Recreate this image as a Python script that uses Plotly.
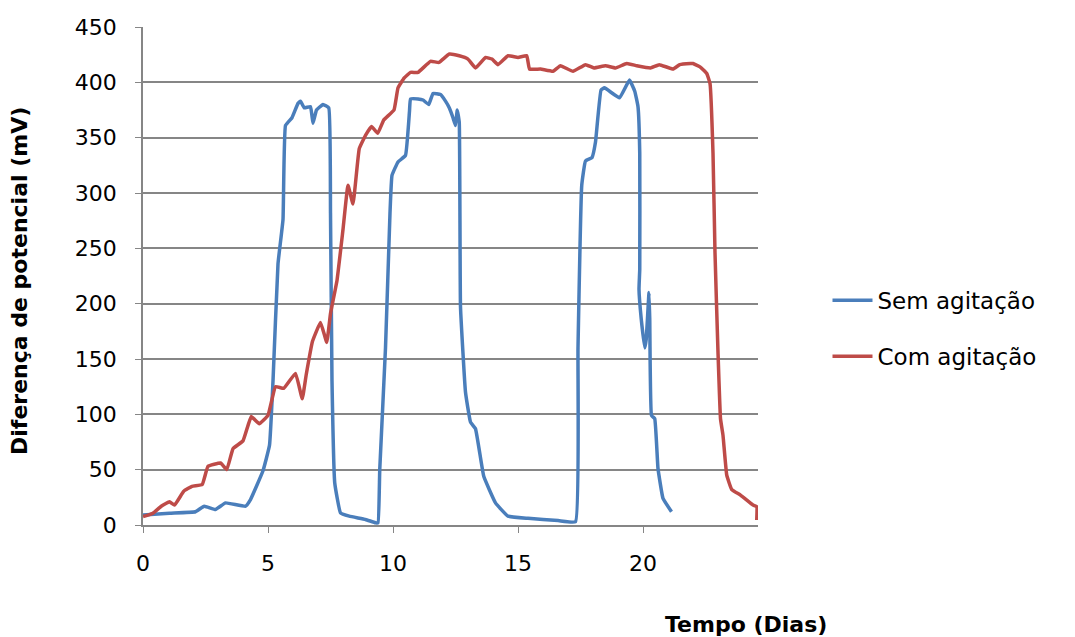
import plotly.graph_objects as go

# Sem agitação (blue)
sem_x = [0, 1.06, 2.1, 2.45, 2.9, 3.3, 4.1, 4.3, 4.8, 5.06, 5.2, 5.4, 5.6, 5.7, 5.96,
         6.2, 6.3, 6.45, 6.7, 6.8, 6.94, 7.2, 7.43, 7.5, 7.56, 7.67, 7.9, 8.25, 8.9, 9.3, 9.4,
         9.47, 9.7, 9.88, 9.96, 10.2, 10.5, 10.66, 10.7, 11.0, 11.2, 11.43, 11.6, 11.9, 12.1,
         12.25, 12.4, 12.5, 12.57, 12.65, 12.7, 12.9, 13.1, 13.3, 13.63, 14.1, 14.6, 15.4,
         16.6, 17.3, 17.4, 17.55, 17.7, 17.96, 18.1, 18.32, 18.46, 19.06, 19.46, 19.67, 19.8,
         19.87, 19.87, 19.84, 19.93, 20.07, 20.13, 20.24, 20.27, 20.34, 20.47, 20.6, 20.8, 21.14]
sem_y = [9, 10.7, 12, 17, 14, 20, 17, 23, 49, 72, 130, 236, 276, 361, 368,
         381, 383, 377, 378, 363, 375, 380, 377, 282, 130, 38, 11, 8, 5, 2, 2,
         50, 160, 282, 316, 328, 334, 374, 385, 385, 384, 380, 390, 389, 383,
         377, 368, 361, 375, 364, 197, 120, 93, 87, 44, 20, 8, 6,
         4, 3, 160, 307, 329, 332, 346, 393, 395, 386, 402, 392, 378,
         336, 231, 213, 186, 160, 168, 210, 186, 99, 96, 51, 24, 12]

# Com agitação (red)
com_x = [0, 0.4, 0.73, 1.06, 1.26, 1.63, 1.96, 2.37, 2.6, 3.1, 3.35, 3.6, 4.0, 4.33, 4.65,
         5.0, 5.3, 5.63, 6.1, 6.37, 6.53, 6.78, 7.1, 7.35, 7.5, 7.76, 8.0, 8.2, 8.4, 8.65,
         8.9, 9.14, 9.39, 9.63, 10.04, 10.2, 10.45, 10.7, 11.0, 11.5, 11.84, 12.25, 12.65,
         13.0, 13.3, 13.7, 13.96, 14.2, 14.6, 15.0, 15.35, 15.46, 15.9, 16.4, 16.7, 17.2,
         17.7, 18.04, 18.5, 18.9, 19.35, 19.75, 20.3, 20.65, 21.2, 21.47, 21.9, 22.0, 22.28,
         22.55, 22.68, 22.8, 22.88, 23.0, 23.1, 23.2, 23.35, 23.55, 23.9, 24.4, 24.55, 24.55]
com_y = [7.6, 10.7, 17, 21, 18, 30.5, 35, 36.6, 53, 56, 50, 69, 76, 98, 91.5,
         99, 125, 123.5, 137, 114, 136, 166, 183, 165, 191, 221, 267, 307, 290, 340,
         352, 360, 354, 366, 375, 395, 404, 409, 409, 419, 418, 425.6, 424,
         421, 413, 422.5, 421, 416, 424, 422.5, 424, 412, 412, 410, 415, 410,
         416, 413, 415, 413, 417, 415, 413, 416, 412, 416, 417, 417, 414,
         408, 399, 336, 246, 156, 96, 81, 45, 32, 27, 18, 16.5, 4.5]

x_ticks = [0, 5, 10, 15, 20]
y_ticks = [0, 50, 100, 150, 200, 250, 300, 350, 400, 450]

FONT = "DejaVu Sans"

fig = go.Figure()
fig.add_trace(go.Scatter(x=sem_x, y=sem_y, mode="lines", name="Sem agitação",
                         line=dict(color="#4A7EBB", width=3.5, shape="spline", smoothing=0.3),
                         legendgroup="a"))
fig.add_trace(go.Scatter(x=com_x, y=com_y, mode="lines", name="Com agitação",
                         line=dict(color="#BE4B48", width=3.5, shape="spline", smoothing=0.3),
                         legendgroup="b"))

fig.update_layout(
    width=1075, height=637,
    margin=dict(l=143, r=317, t=27, b=112),
    paper_bgcolor="white", plot_bgcolor="white",
    font=dict(family=FONT, size=22, color="#000000"),
    showlegend=True,
    legend=dict(x=1.113, y=0.395, xanchor="left", yanchor="middle",
                font=dict(family=FONT, size=23, color="#000000"),
                tracegroupgap=23, traceorder="grouped", itemwidth=40,
                bgcolor="rgba(0,0,0,0)"),
    xaxis=dict(range=[0, 24.6], tickvals=x_ticks, ticktext=[str(v) for v in x_ticks],
               showgrid=False, zeroline=False, showline=True, linecolor="#868686",
               linewidth=1.5, ticks="outside", ticklen=6, tickcolor="#868686",
               ticklabelstandoff=12, tickfont=dict(size=22)),
    yaxis=dict(range=[0, 450], tickvals=y_ticks, showgrid=True, gridcolor="#868686",
               gridwidth=1.5, zeroline=False, showline=True, linecolor="#868686",
               linewidth=1.5, ticks="outside", ticklen=6, tickcolor="#868686",
               ticklabelstandoff=14, tickfont=dict(size=22)),
    annotations=[
        dict(text="<b>Diferença de potencial (mV)</b>", xref="paper", yref="paper",
             x=-0.2, y=0.49, textangle=-90, showarrow=False,
             font=dict(family=FONT, size=22, color="#000000"),
             xanchor="center", yanchor="middle"),
        dict(text="<b>Tempo (Dias)</b>", xref="paper", yref="paper",
             x=0.98, y=-0.2, showarrow=False,
             font=dict(family=FONT, size=22, color="#000000"),
             xanchor="center", yanchor="middle"),
    ],
)

fig.write_html("out.html")
